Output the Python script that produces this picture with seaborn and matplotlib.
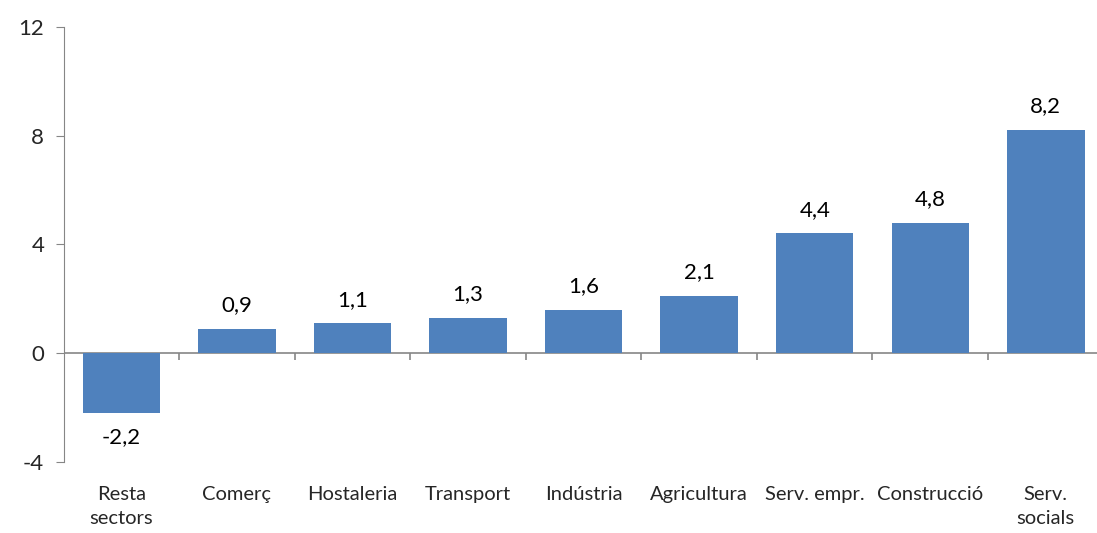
import matplotlib.pyplot as plt
import seaborn as sns
import pandas as pd

# data
categories = ["Resta\nsectors", "Comerç", "Hostaleria", "Transport", "Indústria",
              "Agricultura", "Serv. empr.", "Construcció", "Serv.\nsocials"]
values = [-2.2, 0.9, 1.1, 1.3, 1.6, 2.1, 4.4, 4.8, 8.2]
yticks = [-4, 0, 4, 8, 12]

df = pd.DataFrame({"sector": categories, "valor": values})

sns.set_style("white")
plt.rcParams["font.family"] = ["Lato", "DejaVu Sans"]

fig, ax = plt.subplots(figsize=(10.97, 5.33), dpi=100)
fig.subplots_adjust(left=0.058, right=1.006, top=0.95, bottom=0.133)

sns.barplot(data=df, x="sector", y="valor", color="#4F81BD", saturation=1,
            width=0.67, linewidth=0, ax=ax)

# value labels
for i, v in enumerate(values):
    off = 0.5 if v >= 0 else -0.5
    ax.text(i, v + off, f"{v:.1f}".replace(".", ","), ha="center",
            va="bottom" if v >= 0 else "top", fontsize=16, color="black")

ax.set_ylim(-4, 12)
ax.set_xlim(-0.5, len(categories) - 0.5)
ax.set_yticks(yticks)
ax.set_yticklabels([str(t) for t in yticks], fontsize=16)
ax.set_xlabel("")
ax.set_ylabel("")
for lbl in ax.get_xticklabels():
    lbl.set_linespacing(1.45)

# axes styling
for s in ["top", "right", "bottom"]:
    ax.spines[s].set_visible(False)
ax.spines["left"].set_color("#868686")
ax.axhline(0, color="#868686", lw=1.2, zorder=0)
ax.vlines([i + 0.5 for i in range(len(categories) - 1)], -0.25, 0,
          color="#868686", lw=1.2)
ax.tick_params(axis="y", left=True, length=6, color="#868686", pad=8)
ax.tick_params(axis="x", bottom=False, labelsize=14.5, pad=14)

plt.savefig("out.png", dpi=100)
plt.close()
